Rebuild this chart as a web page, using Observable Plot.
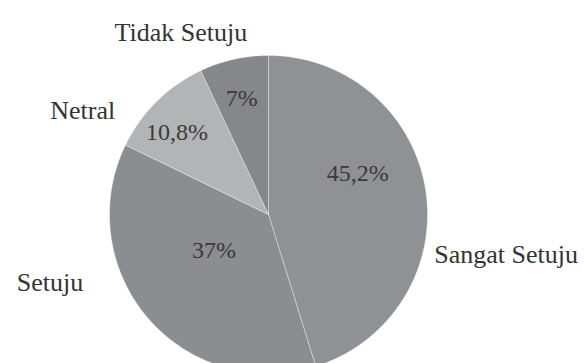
<!DOCTYPE html>
<html>
<head>
<meta charset="utf-8">
<script src="https://cdn.jsdelivr.net/npm/d3@7"></script>
<script src="https://cdn.jsdelivr.net/npm/@observablehq/plot@0.6"></script>
<style>
  html, body { margin: 0; padding: 0; background: #ffffff; }
  #chart svg { display: block; }
</style>
</head>
<body>
<div id="chart"></div>
<script>
// ---- data ----
const categories = ["Sangat Setuju", "Setuju", "Netral", "Tidak Setuju"];
const percents = [45.2, 37, 10.8, 7];
const sliceColors = ["#8f9194", "#8b8d90", "#b2b4b6", "#86878b"];

// ---- label layout (polar: angle clockwise from top in degrees, radius as fraction of pie radius) ----
const nameLabelAngle = [99.5, 252.6, 299.1, 334.3];
const nameLabelRadius = [1.515, 1.44, 1.337, 1.27];
const pctLabelAngle = [65, 236.8, 312.1, 347];
const pctLabelRadius = [0.62, 0.41, 0.775, 0.75];

// ---- build slices ----
const total = d3.sum(percents);
const rad = Math.PI / 180;
let acc = 0;
const slicePts = [];
categories.forEach((c, i) => {
  const a0 = acc / total * 360;
  acc += percents[i];
  const a1 = acc / total * 360;
  slicePts.push({cat: c, x: 0, y: 0});
  const n = Math.max(2, Math.ceil((a1 - a0) / 0.5));
  for (let k = 0; k <= n; k++) {
    const a = (a0 + (a1 - a0) * k / n) * rad;
    slicePts.push({cat: c, x: Math.sin(a), y: Math.cos(a)});
  }
  slicePts.push({cat: c, x: 0, y: 0});
});

const fmt = v => String(v).replace(".", ",") + "%";
const nameLabels = categories.map((c, i) => ({
  text: c,
  x: nameLabelRadius[i] * Math.sin(nameLabelAngle[i] * rad),
  y: nameLabelRadius[i] * Math.cos(nameLabelAngle[i] * rad)
}));
const pctLabels = categories.map((c, i) => ({
  text: fmt(percents[i]),
  x: pctLabelRadius[i] * Math.sin(pctLabelAngle[i] * rad),
  y: pctLabelRadius[i] * Math.cos(pctLabelAngle[i] * rad)
}));

// pie centre at (268, 214) px, radius 159 px
const W = 584, H = 363, CX = 268, CY = 214, R = 159;

const chart = Plot.plot({
  width: W,
  height: H,
  margin: 0,
  x: {domain: [-CX / R, (W - CX) / R], range: [0, W], axis: null},
  y: {domain: [CY / R, -(H - CY) / R], range: [0, H], axis: null},
  color: {domain: categories, range: sliceColors},
  style: {fontFamily: "'Liberation Serif', 'Times New Roman', serif", background: "#ffffff"},
  marks: [
    Plot.line(slicePts, {
      x: "x", y: "y", z: "cat", fill: "cat",
      stroke: "#ffffff", strokeOpacity: 0.35, strokeWidth: 1, curve: "linear"
    }),
    Plot.text(pctLabels, {
      x: "x", y: "y", text: "text",
      fontSize: 24, fill: "#3a3a3a"
    }),
    Plot.text(nameLabels, {
      x: "x", y: "y", text: "text",
      fontSize: 26, fill: "#333333"
    })
  ]
});
document.getElementById("chart").appendChild(chart);
</script>
</body>
</html>
